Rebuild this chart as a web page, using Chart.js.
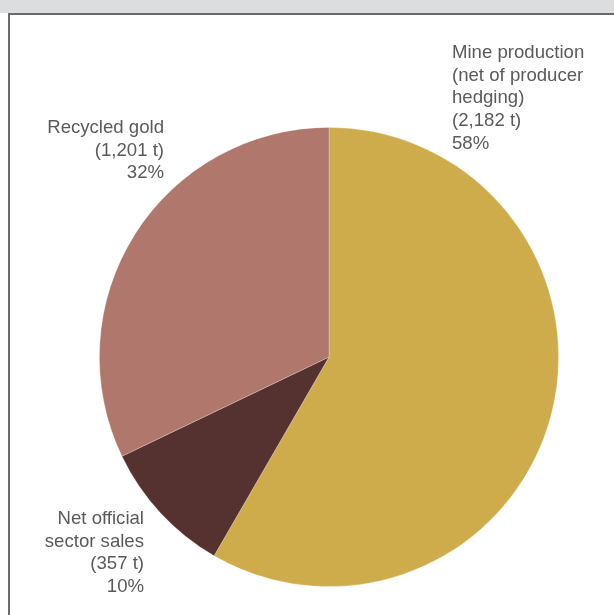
<!DOCTYPE html>
<html>
<head>
<meta charset="utf-8">
<script src="https://cdn.jsdelivr.net/npm/chart.js@4/dist/chart.umd.min.js"></script>
<style>
    html, body { margin: 0; padding: 0; background: #fff; }
    body { width: 614px; height: 615px; position: relative; overflow: hidden; }
    .top-band { position: absolute; left: 0; top: 0; width: 614px; height: 13px; background: #dcdddf; }
    .frame { position: absolute; left: 8px; top: 13px; width: 620px; height: 620px;
             border-left: 2px solid #6a6a6a; border-top: 2px solid #6a6a6a; background: #fff; }
    #supplyChart { position: absolute; left: 0; top: 0; }
</style>
</head>
<body>
<div class="top-band"></div>
<div class="frame"></div>
<canvas id="supplyChart" width="614" height="615"></canvas>
<script>
// 供应来源（吨）
const categories = ['Mine production', 'Net official sector sales', 'Recycled gold'];
const tonnes = [2182, 357, 1201];
const shares = [58, 10, 32];
const sliceColors = ['#cfac4b', '#553230', '#b0786c'];

// 标注文字
const labelLines = [
    ['Mine production', '(net of producer', 'hedging)', '(2,182 t)', '58%'],
    ['Net official', 'sector sales', '(357 t)', '10%'],
    ['Recycled gold', '(1,201 t)', '32%']
];
// 标注位置：x, 第一行中线 y, 对齐方式
const labelPlaces = [
    { x: 452, y: 53, align: 'left' },
    { x: 144, y: 519, align: 'right' },
    { x: 164, y: 128, align: 'right' }
];

const sliceLabels = {
    id: 'sliceLabels',
    afterDraw(chart) {
        const ctx = chart.ctx;
        ctx.save();
        ctx.font = '18.6px "Liberation Sans", Arial, sans-serif';
        ctx.fillStyle = '#5a5a5a';
        ctx.textBaseline = 'middle';
        labelLines.forEach((lines, i) => {
            const p = labelPlaces[i];
            ctx.textAlign = p.align;
            lines.forEach((line, j) => {
                ctx.fillText(line, p.x, p.y + j * 22.6);
            });
        });
        ctx.restore();
    }
};

new Chart(document.getElementById('supplyChart'), {
    type: 'pie',
    data: {
        labels: categories,
        datasets: [{
            data: tonnes,
            backgroundColor: sliceColors,
            borderColor: 'rgba(255,255,255,0.3)',
            borderWidth: 0.8
        }]
    },
    options: {
        responsive: false,
        animation: false,
        layout: { padding: { left: 99, top: 127, right: 55, bottom: 28 } },
        plugins: {
            legend: { display: false },
            tooltip: { enabled: false }
        }
    },
    plugins: [sliceLabels]
});
</script>
</body>
</html>
